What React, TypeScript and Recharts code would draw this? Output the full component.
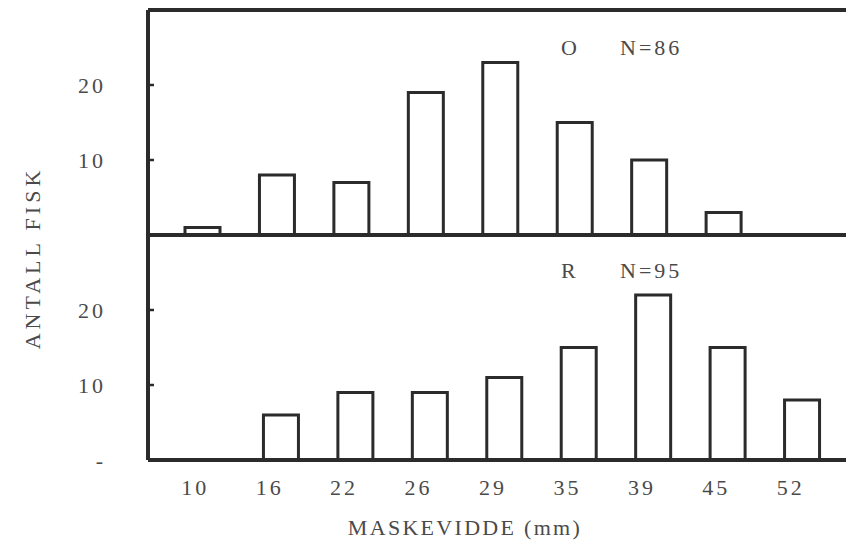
import { BarChart, Bar, XAxis, YAxis, ReferenceLine } from "recharts";

// mesh size categories (mm) and number of fish per panel
const sizes = ["10", "16", "22", "26", "29", "35", "39", "45", "52"];
const countO = [1, 8, 7, 19, 23, 15, 10, 3, 0];
const countR = [0, 6, 9, 9, 11, 15, 22, 15, 8];
const yTicksTop = [10, 20];
const yTicksBottom = [0, 10, 20];
const yMax = 30;

const INK = "#2b2b2b";
const TEXT = "#4a4a4a";
const FONT = "'Liberation Serif', 'DejaVu Serif', serif";

const dataO = sizes.map((s, i) => ({ size: s, n: countO[i] }));
const dataR = sizes.map((s, i) => ({ size: s, n: countR[i] }));

const frame = { stroke: INK, strokeWidth: 4 };

/* eslint-disable @typescript-eslint/no-explicit-any */
function YTick({ x, y, payload }: any) {
  return (
    <g>
      <line x1={x} x2={x + 6} y1={y} y2={y} stroke={INK} strokeWidth={2.5} />
      <text x={x - 42} y={y} textAnchor="end" dominantBaseline="central"
        fill={TEXT} fontSize={22} fontFamily={FONT} letterSpacing={3}>
        {payload.value === 0 ? "-" : payload.value}
      </text>
    </g>
  );
}

function XTick({ x, y, payload }: any) {
  return (
    <text x={x - 11} y={y + 27} textAnchor="middle" dominantBaseline="central"
      fill={TEXT} fontSize={22} fontFamily={FONT} letterSpacing={3}>
      {payload.value}
    </text>
  );
}
/* eslint-enable @typescript-eslint/no-explicit-any */

const txt: React.CSSProperties = {
  position: "absolute", fontFamily: FONT, color: TEXT, fontSize: 22, whiteSpace: "nowrap", lineHeight: 1,
};

export default function App() {
  return (
    <div style={{ position: "fixed", left: 0, top: 0, width: 846, height: 549, overflow: "hidden", background: "#fff" }}>
      {/* top panel (O) */}
      <div style={{ position: "absolute", left: 0, top: 0 }}>
        <BarChart width={880} height={240} data={dataO} margin={{ top: 10, right: 25, left: 0, bottom: 4 }}>
          <XAxis dataKey="size" height={1} tick={false} tickLine={false}
            axisLine={frame} padding={{ left: 17, right: 20 }} />
          <YAxis width={148} domain={[0, yMax]} ticks={yTicksTop} tick={<YTick />} tickLine={false}
            tickSize={0} tickMargin={0} axisLine={frame} />
          {/* top edge of the frame */}
          <ReferenceLine y={yMax} stroke={INK} strokeWidth={4} />
          <Bar dataKey="n" fill="#fff" stroke={INK} strokeWidth={3} barSize={35} isAnimationActive={false} />
        </BarChart>
      </div>

      {/* bottom panel (R) */}
      <div style={{ position: "absolute", left: 0, top: 230 }}>
        <BarChart width={880} height={319} data={dataR} margin={{ top: 5, right: 25, left: 0, bottom: 0 }}>
          <XAxis dataKey="size" height={89} tick={<XTick />} tickLine={false} tickSize={0} tickMargin={0}
            axisLine={frame} padding={{ left: 21, right: 16 }} />
          <YAxis width={148} domain={[0, yMax]} ticks={yTicksBottom} tick={<YTick />} tickLine={false}
            tickSize={0} tickMargin={0} axisLine={frame} />
          <Bar dataKey="n" fill="#fff" stroke={INK} strokeWidth={3} barSize={35} isAnimationActive={false} />
        </BarChart>
      </div>

      {/* panel labels */}
      <div style={{ ...txt, left: 561, top: 37 }}>O</div>
      <div style={{ ...txt, left: 620, top: 37, letterSpacing: 3 }}>N=86</div>
      <div style={{ ...txt, left: 561, top: 260 }}>R</div>
      <div style={{ ...txt, left: 620, top: 260, letterSpacing: 3 }}>N=95</div>

      {/* axis titles */}
      <div style={{ ...txt, left: 33, top: 258, letterSpacing: 4, transform: "translate(-50%, -50%) rotate(-90deg)" }}>
        ANTALL FISK
      </div>
      <div style={{ ...txt, left: 465, top: 528, letterSpacing: 2.3, transform: "translate(-50%, -50%)" }}>
        MASKEVIDDE (mm)
      </div>
    </div>
  );
}
